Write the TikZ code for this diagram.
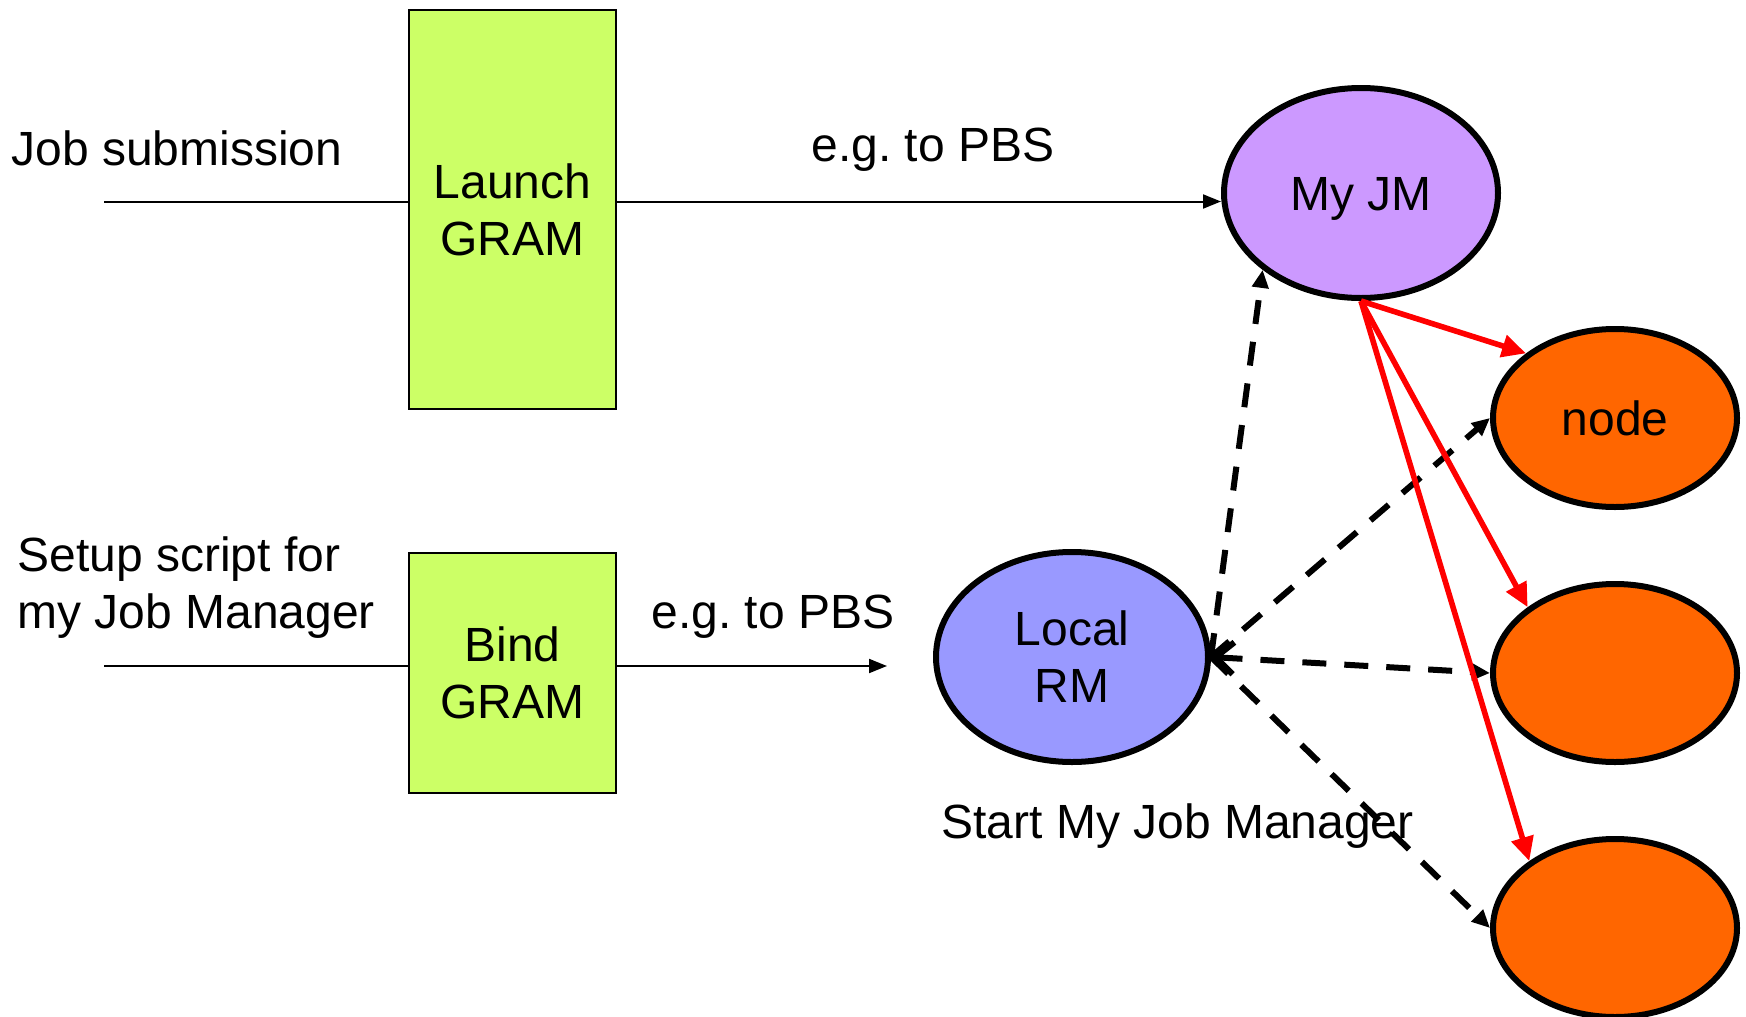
\documentclass[tikz,border=0pt]{standalone}
\usepackage{fontspec}
\setmainfont{Liberation Sans}
\usetikzlibrary{shapes.geometric,arrows.meta}
\definecolor{lgreen}{HTML}{CCFF66}
\definecolor{jmpurple}{HTML}{CC99FF}
\definecolor{rmblue}{HTML}{9999FF}
\definecolor{nodeorange}{HTML}{FF6600}
\tikzset{
  gram/.style={draw=black,line width=1pt,fill=lgreen,minimum width=103.5pt,inner sep=0pt,align=center},
  oval/.style={ellipse,draw=black,line width=3pt,inner sep=0pt,align=center},
  lbl/.style={inner sep=0pt,align=left},
  thin/.style={line width=1pt},
  thinarrow/.style={thin,-{Triangle[length=9pt,width=7pt]}},
  redarrow/.style={red,line width=2.8pt,-{Triangle[length=12pt,width=11pt]}},
  dasharrow/.style={line width=3pt,dash pattern=on 12pt off 9pt,-{Triangle[length=9pt,width=8pt]}},
}
\begin{document}
\frenchspacing
\begin{tikzpicture}[x=0.5pt,y=-0.5pt,font=\fontsize{24}{28.5}\selectfont]
\useasboundingbox (0,0) rectangle (1746,1017);
% boxes
\node[gram,minimum height=199.5pt] (launch) at (512.5,209.5) {Launch\\GRAM};
\node[gram,minimum height=120pt] (bind) at (512.5,673) {Bind\\GRAM};
% ellipses
\node[oval,fill=jmpurple,minimum width=137pt,minimum height=105pt] (jm) at (1361,193) {\raisebox{-2.8pt}[\height][\depth]{My JM}};
\node[oval,fill=rmblue,minimum width=136pt,minimum height=105pt] (rm) at (1072,657) {Local\\RM};
\node[oval,fill=nodeorange,minimum width=122pt,minimum height=89pt] (n1) at (1615,418) {node};
\node[oval,fill=nodeorange,minimum width=122pt,minimum height=89pt] (n2) at (1615,673) {};
\node[oval,fill=nodeorange,minimum width=122pt,minimum height=89pt] (n3) at (1615,928) {};
% labels
\node[lbl,anchor=west] (jobsub) at (11,148) {Job submission};
\node[lbl] (pbs1) at (933,150) {e.g. to PBS};
\node[lbl,anchor=west] (setup) at (17,588) {Setup script for\\my Job Manager};
\node[lbl] (pbs2) at (773,617) {e.g. to PBS};
\node[lbl,anchor=west] (start) at (941,826) {Start My Job Manager};
% thin connectors
\coordinate (in1) at (104,201.5);
\coordinate (in2) at (104,666);
\coordinate (out2) at (887,666);
\draw[thin] (in1) -- (in1 -| launch.west);
\draw[thinarrow] (in1 -| launch.east) -- (in1 -| jm.west);
\draw[thin] (in2) -- (in2 -| bind.west);
\draw[thinarrow] (in2 -| bind.east) -- (out2);
% dashed connectors
\draw[dasharrow] (rm.east) -- (jm.218);
\draw[dasharrow] (rm.east) -- (n1.west);
\draw[dasharrow,{Straight Barb[length=9pt,width=16pt]}-{Triangle[length=9pt,width=8pt]}] (rm.east) -- (n2.west);
\draw[dasharrow] (rm.east) -- (n3.west);
% red connectors
\draw[redarrow] (jm.south) -- (n1.144);
\draw[redarrow] (jm.south) -- (n2.143);
\draw[redarrow] (jm.south) -- (n3.142);
\end{tikzpicture}
\end{document}
